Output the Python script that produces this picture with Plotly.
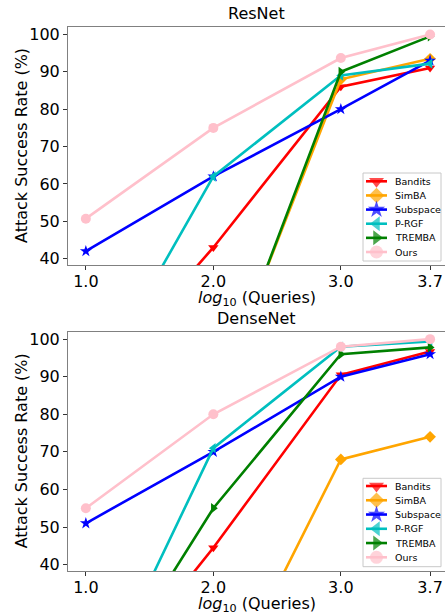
import plotly.graph_objects as go

x_vals = [1.0, 2.0, 3.0, 3.7]
x_tick_labels = ["1.0", "2.0", "3.0", "3.7"]
y_ticks = [40, 50, 60, 70, 80, 90, 100]

methods = ["Bandits", "SimBA", "Subspace", "P-RGF", "TREMBA", "Ours"]

resnet_bandits = [4, 43, 86, 91]
resnet_simba = [0, 1, 88, 93.5]
resnet_subspace = [42, 62, 80, 93]
resnet_prgf = [2, 62, 89, 92.2]
resnet_tremba = [0, 0, 90, 99.5]
resnet_ours = [50.7, 75, 93.7, 100]

densenet_bandits = [2, 44.5, 90.5, 96.7]
densenet_simba = [0, 0.5, 68, 74]
densenet_subspace = [51, 70, 90, 96]
densenet_prgf = [0, 71, 98, 99.4]
densenet_tremba = [1, 55, 96, 97.8]
densenet_ours = [55, 80, 98, 100]

colors = ["#ff0000", "#ffa500", "#0000ff", "#00bfbf", "#008000", "#ffc0cb"]
symbols = ["triangle-down", "diamond", "star", "triangle-left", "triangle-right", "circle"]
msizes = [9, 9, 9, 9, 9, 10]
leg_msizes = [13, 12, 13, 13, 13, 13]

resnet = [resnet_bandits, resnet_simba, resnet_subspace, resnet_prgf, resnet_tremba, resnet_ours]
densenet = [densenet_bandits, densenet_simba, densenet_subspace, densenet_prgf, densenet_tremba, densenet_ours]

FONT = "DejaVu Sans"
W, H = 445, 613
ML, MR, MT, MB = 68, 0, 27, 42

fig = go.Figure()

for axn, data in [("", resnet), ("2", densenet)]:
    for i, m in enumerate(methods):
        fig.add_trace(go.Scatter(
            x=x_vals, y=data[i], mode="lines+markers", name=m,
            line=dict(color=colors[i], width=2.6),
            marker=dict(color=colors[i], symbol=symbols[i], size=msizes[i], line=dict(width=0)),
            xaxis="x" + axn, yaxis="y" + axn, cliponaxis=True, showlegend=False,
        ))

# Hand-drawn legends on a pixel-space overlay axis (x3/y3)
legend_boxes = [(363, 441, 173, 261, 181.3, 14.14), (363, 441, 478.3, 566.7, 486.0, 14.26)]
annotations = []
for (x0, x1, y0, y1, ystart, dy) in legend_boxes:
    fig.add_trace(go.Scatter(
        x=[x0, x1, x1, x0, x0], y=[y0, y0, y1, y1, y0], mode="lines", fill="toself",
        fillcolor="white", line=dict(color="#c8c8c8", width=1),
        xaxis="x3", yaxis="y3", showlegend=False, hoverinfo="skip", cliponaxis=False,
    ))
    for i, m in enumerate(methods):
        yy = ystart + dy * i
        fig.add_trace(go.Scatter(
            x=[x0 + 3, x0 + 13.5, x0 + 24], y=[yy, yy, yy], mode="lines+markers",
            line=dict(color=colors[i], width=2.6),
            marker=dict(color=colors[i], symbol=symbols[i], size=[0, leg_msizes[i], 0], line=dict(width=0)),
            xaxis="x3", yaxis="y3", showlegend=False, hoverinfo="skip", cliponaxis=False,
        ))
        annotations.append(dict(text=m, x=x0 + 30, y=yy, xref="x3", yref="y3",
                                xanchor="left", yanchor="middle", showarrow=False,
                                font=dict(family=FONT, size=9.5, color="black")))

axis_common = dict(
    showline=True, linecolor="#808080", linewidth=1, showgrid=False, zeroline=False,
    ticks="outside", ticklen=4, tickcolor="#333", tickwidth=1,
    tickfont=dict(family=FONT, size=16, color="black"),
)
top_dom = [0.5625, 1.0]
bot_dom = [0.0, 0.44]
fig.update_layout(
    xaxis=dict(domain=[0, 1], range=[0.86, 3.817], tickvals=x_vals, ticktext=x_tick_labels,
               mirror=True, anchor="y", ticklabelstandoff=-2, **axis_common),
    yaxis=dict(domain=top_dom, range=[38.3, 102.0], tickvals=y_ticks, anchor="x", **axis_common),
    xaxis2=dict(domain=[0, 1], range=[0.86, 3.817], tickvals=x_vals, ticktext=x_tick_labels,
                mirror=True, anchor="y2", ticklabelstandoff=-2, **axis_common),
    yaxis2=dict(domain=bot_dom, range=[38.3, 102.0], tickvals=y_ticks, anchor="x2", **axis_common),
    xaxis3=dict(domain=[0, 1], range=[ML, W - MR], visible=False, anchor="y3", fixedrange=True),
    yaxis3=dict(domain=[0, 1], range=[H - MB, MT], visible=False, anchor="x3", fixedrange=True),
)

txt = dict(family=FONT, size=16, color="black")
annotations += [
    dict(text="ResNet", x=0.5, xref="paper", y=1.0, yref="paper", yanchor="bottom",
         yshift=2, showarrow=False, font=txt),
    dict(text="DenseNet", x=0.5, xref="paper", y=0.44, yref="paper", yanchor="bottom",
         yshift=2, showarrow=False, font=txt),
    dict(text="<i>log</i><sub>10</sub> (Queries)", x=0.5, xref="paper", y=0.5625, yref="paper",
         yanchor="top", yshift=-21, showarrow=False, font=txt),
    dict(text="<i>log</i><sub>10</sub> (Queries)", x=0.5, xref="paper", y=0.0, yref="paper",
         yanchor="top", yshift=-21, showarrow=False, font=txt),
]
for yc in [(top_dom[0] + top_dom[1]) / 2, (bot_dom[0] + bot_dom[1]) / 2]:
    annotations.append(dict(text="Attack Success Rate (%)", x=0, xref="paper", xanchor="center",
                            xshift=-47, y=yc, yref="paper", yanchor="middle", textangle=-90,
                            showarrow=False, font=txt))

fig.update_layout(
    annotations=annotations,
    width=W, height=H,
    margin=dict(l=ML, r=MR, t=MT, b=MB, pad=0),
    paper_bgcolor="white", plot_bgcolor="rgba(0,0,0,0)",
    font=txt, showlegend=False,
)

fig.write_html("out.html", config={"displayModeBar": False},
               post_script="document.body.style.margin='0';document.body.style.overflow='hidden';")
